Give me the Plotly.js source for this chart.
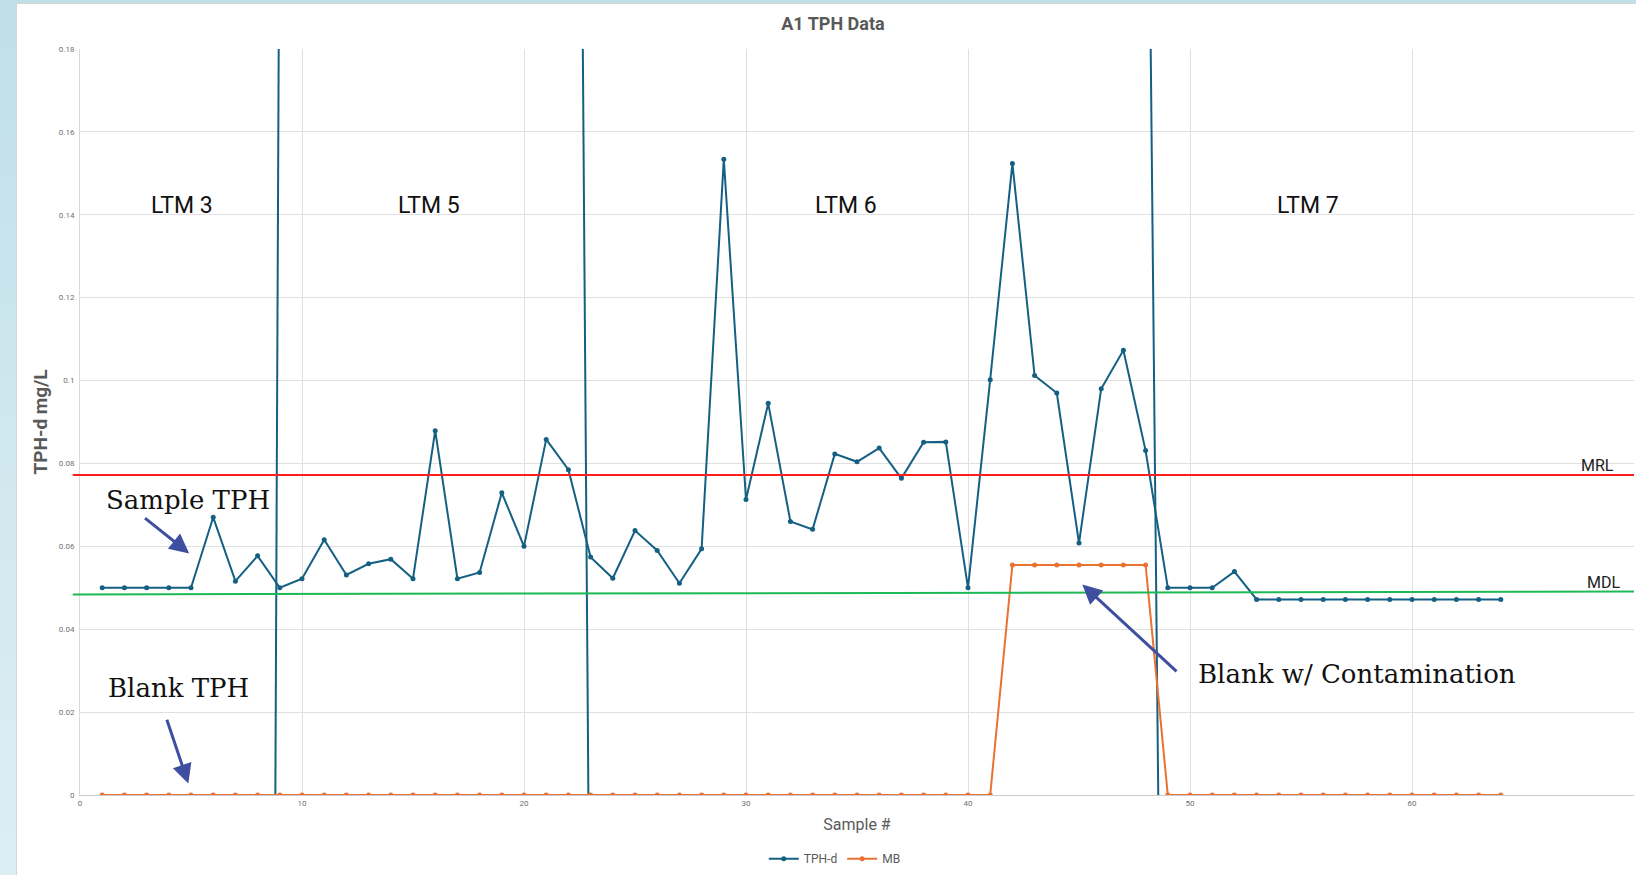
<!DOCTYPE html>
<html>
<head>
<meta charset="utf-8">
<script src="https://cdn.plot.ly/plotly-3.0.1.min.js"></script>
<style>
  html, body { margin: 0; padding: 0; width: 1636px; height: 875px; overflow: hidden;
    background: linear-gradient(180deg, #bfdfe9 0%, #d3e9f0 60%, #dceef3 100%); }
  #chart { position: absolute; left: 16px; top: 3px; width: 1619px; height: 871px;
    background: #ffffff; border-left: 1px solid #d6d6d6; border-top: 1px solid #d6d6d6; }
</style>
</head>
<body>
<div id="chart"></div>
<script>
// ---- data ----
const sampleNum = [1,2,3,4,5,6,7,8,9,10,11,12,13,14,15,16,17,18,19,20,21,22,23,24,25,26,27,28,29,30,31,32,
                   33,34,35,36,37,38,39,40,41,42,43,44,45,46,47,48,49,50,51,52,53,54,55,56,57,58,59,60,61,62,63,64];
const tphD = [0.050,0.050,0.050,0.050,0.050,0.0670,0.0516,0.0577,0.050,
              0.0522,0.0616,0.0531,0.0558,0.0569,0.0522,0.0879,0.0522,0.0537,0.0729,0.0600,0.0858,
              0.0785,0.0574,0.0523,0.0638,0.0590,0.0511,0.0594,
              0.1534,0.0713,0.0945,0.0660,0.0641,0.0823,0.0804,0.0837,0.0764,0.0851,0.0852,0.050,
              0.1002,0.1524,0.1012,0.0970,0.0608,0.0980,0.1073,0.0831,
              0.050,0.050,0.050,0.0539,
              0.0472,0.0472,0.0472,0.0472,0.0472,0.0472,0.0472,0.0472,0.0472,0.0472,0.0472,0.0472];
const mb = [0,0,0,0,0,0,0,0,0,0,0,0,0,0,0,0,0,0,0,0,0,0,0,0,0,0,0,0,0,0,0,0,0,0,0,0,0,0,0,0,0,
            0.0555,0.0555,0.0555,0.0555,0.0555,0.0555,0.0555,
            0,0,0,0,0,0,0,0,0,0,0,0,0,0,0,0];
// event separators (top x, bottom x)
const dividerTopX = [8.95, 22.65, 48.23];
const dividerBottomX = [8.8, 22.9, 48.57];
const dividerTopY = 0.18;
const mrlValue = [0.0772, 0.0772];   // left, right
const mdlValue = [0.0484, 0.0491];   // left, right
const ltmLabels = ["LTM 3", "LTM 5", "LTM 6", "LTM 7"];
const ltmX = [4.6, 15.7, 34.5, 55.3];
const ltmY = 0.1422;

// ---- build ----
const divX = [], divY = [];
for (let i = 0; i < dividerTopX.length; i++) {
  divX.push(dividerTopX[i], dividerBottomX[i], null);
  divY.push(dividerTopY, 0, null);
}
const teal = '#156082', orange = '#E97132', arrowCol = '#3F4FA0';

const traces = [
  { x: divX, y: divY, mode: 'lines', line: {color: teal, width: 2}, showlegend: false, hoverinfo: 'skip' },
  { x: sampleNum, y: tphD, name: 'TPH-d', mode: 'lines+markers',
    line: {color: teal, width: 2}, marker: {color: teal, size: 5} },
  { x: sampleNum, y: mb, name: 'MB', mode: 'lines+markers',
    line: {color: orange, width: 2}, marker: {color: orange, size: 5} }
];

const serif = {family: 'DejaVu Serif', size: 26, color: '#111111'};
const sans = 'Roboto, "Liberation Sans", sans-serif';
const annotations = ltmLabels.map((t, i) => ({
  x: ltmX[i], y: ltmY, xref: 'x', yref: 'y', text: t, showarrow: false,
  font: {family: sans, size: 23, color: '#111111'}
}));
annotations.push(
  {x: 68.35, y: 0.0794, xref: 'x', yref: 'y', text: 'MRL', showarrow: false, font: {family: sans, size: 16, color: '#222'}},
  {x: 68.64, y: 0.0513, xref: 'x', yref: 'y', text: 'MDL', showarrow: false, font: {family: sans, size: 16, color: '#222'}},
  {x: 4.88, y: 0.0711, xref: 'x', yref: 'y', text: 'Sample TPH', showarrow: false, font: serif},
  {x: 4.45, y: 0.0258, xref: 'x', yref: 'y', text: 'Blank TPH', showarrow: false, font: serif},
  {x: 57.52, y: 0.0293, xref: 'x', yref: 'y', text: 'Blank w/ Contamination', showarrow: false, font: serif},
  {x: 4.92, y: 0.0583, ax: 2.86, ay: 0.0671, xref: 'x', yref: 'y', axref: 'x', ayref: 'y', text: '',
   showarrow: true, arrowhead: 2, arrowsize: 1.3, arrowwidth: 3, arrowcolor: arrowCol},
  {x: 4.88, y: 0.00275, ax: 3.89, ay: 0.0185, xref: 'x', yref: 'y', axref: 'x', ayref: 'y', text: '',
   showarrow: true, arrowhead: 2, arrowsize: 1.3, arrowwidth: 3, arrowcolor: arrowCol},
  {x: 45.15, y: 0.0508, ax: 49.46, ay: 0.0295, xref: 'x', yref: 'y', axref: 'x', ayref: 'y', text: '',
   showarrow: true, arrowhead: 2, arrowsize: 1.3, arrowwidth: 3, arrowcolor: arrowCol}
);

const shapes = [
  {type: 'line', xref: 'paper', yref: 'y', x0: -0.0047, x1: 1, y0: mrlValue[0], y1: mrlValue[1],
   line: {color: '#FF1E1E', width: 2}},
  {type: 'line', xref: 'paper', yref: 'y', x0: -0.0047, x1: 1, y0: mdlValue[0], y1: mdlValue[1],
   line: {color: '#1DB954', width: 2}}
];

const layout = {
  width: 1619, height: 871,
  margin: {l: 63, r: 2, t: 45, b: 76},
  paper_bgcolor: '#ffffff', plot_bgcolor: '#ffffff',
  font: {family: sans, color: '#595959'},
  title: {text: '<b>A1 TPH Data</b>', font: {family: sans, size: 18, color: '#595959'},
          xref: 'container', yref: 'container', x: 0.504, xanchor: 'center', y: 0.977, yanchor: 'middle'},
  xaxis: {range: [0, 70], dtick: 10, tick0: 0, showgrid: true, gridcolor: '#e0e0e0', gridwidth: 1,
          zeroline: false, showline: true, linecolor: '#cccccc', linewidth: 1, ticks: '',
          tickfont: {size: 8, color: '#707070'},
          title: {text: 'Sample #', font: {size: 16, color: '#595959'}, standoff: 12}},
  yaxis: {range: [0, 0.18], dtick: 0.02, tick0: 0, showgrid: true, gridcolor: '#e0e0e0', gridwidth: 1,
          zeroline: false, showline: true, linecolor: '#d9d9d9', ticks: '',
          tickfont: {size: 8, color: '#707070'}, ticklabelstandoff: 3,
          title: {text: '<b>TPH-d mg/L</b>', font: {size: 19, color: '#595959'}, standoff: 6}},
  legend: {orientation: 'h', x: 0.4857, xanchor: 'center', y: -0.0853, yanchor: 'middle',
           font: {size: 12, color: '#595959'}, itemwidth: 30, bgcolor: 'rgba(0,0,0,0)'},
  annotations: annotations,
  shapes: shapes,
  showlegend: true
};

Plotly.newPlot('chart', traces, layout, {displayModeBar: false, staticPlot: true});
</script>
</body>
</html>
